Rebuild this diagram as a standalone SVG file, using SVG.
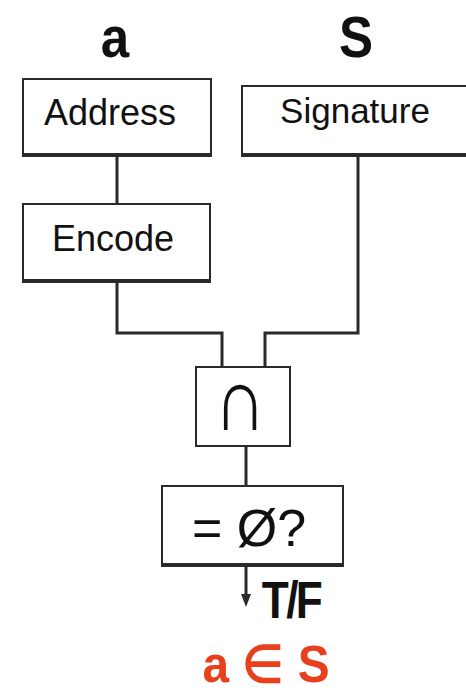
<svg xmlns="http://www.w3.org/2000/svg" width="466" height="695" viewBox="0 0 466 695">
  <defs>
    <style>
      .box { fill: #ffffff; stroke: #2a2a2a; stroke-width: 2; }
      .base { stroke: #2a2a2a; stroke-width: 4; fill: none; }
      .wire { stroke: #2a2a2a; stroke-width: 3; fill: none; stroke-linejoin: miter; }
      .lbl { font-family: "Liberation Sans", Arial, sans-serif; fill: #111; text-anchor: middle; }
      .big { font-family: "Liberation Sans", Arial, sans-serif; font-weight: bold; fill: #111; text-anchor: middle; }
    </style>
  </defs>
  <rect width="466" height="695" fill="#ffffff"/>

  <!-- input labels -->
  <text class="big" font-size="58" transform="translate(115 57) scale(0.88 1)">a</text>
  <text class="big" font-size="58" transform="translate(356 57) scale(0.88 1)">S</text>

  <!-- connectors -->
  <g id="connectors">
    <line class="wire" x1="117" y1="155" x2="117" y2="204"/>
    <polyline class="wire" points="117,281 117,333 222,333 222,367"/>
    <polyline class="wire" points="358,155 358,333 265,333 265,367"/>
    <line class="wire" x1="246" y1="446" x2="246" y2="486"/>
    <line class="wire" x1="246" y1="565" x2="246" y2="596"/>
    <path d="M241,594 L251,594 L246,607 Z" fill="#2a2a2a"/>
  </g>

  <g id="address">
    <rect class="box" x="23" y="79" width="188" height="76"/>
    <line class="base" x1="22" y1="155" x2="212" y2="155"/>
    <text class="lbl" x="110" y="125" font-size="36">Address</text>
  </g>

  <g id="signature">
    <rect class="box" x="242" y="86" width="230" height="69"/>
    <line class="base" x1="241" y1="155" x2="466" y2="155"/>
    <text class="lbl" x="355" y="123" font-size="35">Signature</text>
  </g>

  <g id="encode">
    <rect class="box" x="23" y="204" width="187" height="77"/>
    <line class="base" x1="22" y1="281" x2="211" y2="281"/>
    <text class="lbl" x="113" y="251" font-size="36">Encode</text>
  </g>

  <g id="intersect">
    <rect class="box" x="196" y="367" width="94" height="79"/>
    <text class="lbl" font-size="90" transform="translate(240 430) scale(0.8 1)">∩</text>
  </g>

  <g id="empty-test">
    <rect class="box" x="162" y="486" width="181" height="79"/>
    <line class="base" x1="161" y1="565" x2="344" y2="565"/>
    <text class="lbl" x="249" y="546" font-size="52">= Ø?</text>
  </g>

  <text class="big" font-size="52" letter-spacing="-3" transform="translate(291 618) scale(0.85 1)">T/F</text>
  <text class="big" font-size="52" style="fill:#e8401c" transform="translate(266 682) scale(0.92 1)">a ∈ S</text>
</svg>
